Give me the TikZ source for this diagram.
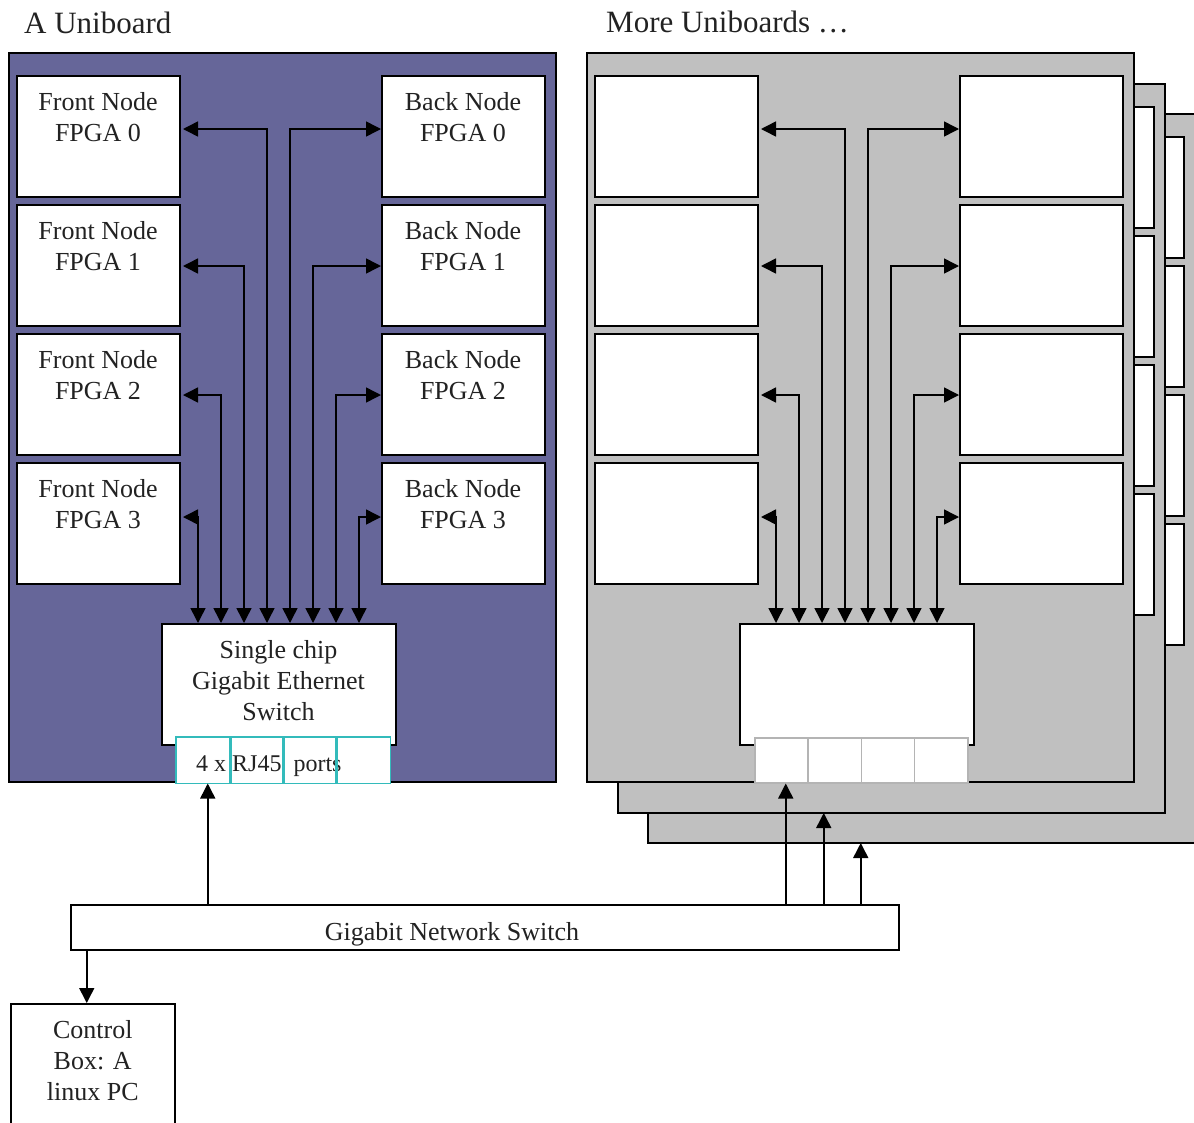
\documentclass[tikz,border=0pt]{standalone}
\usepackage{fontspec}
\setmainfont{Liberation Serif}
\usetikzlibrary{arrows.meta}
\definecolor{boardblue}{RGB}{102,102,153}
\definecolor{boardgray}{RGB}{192,192,192}
\definecolor{portteal}{RGB}{51,187,187}
\definecolor{portgray}{RGB}{180,180,180}
\definecolor{txtgray}{RGB}{34,34,34}
\begin{document}
\begin{tikzpicture}[x=1pt,y=-1pt,
 board/.style={draw=black, line width=1.5pt, rectangle, inner sep=0pt, outer sep=0pt, minimum width=547pt, minimum height=729pt, anchor=north west},
 fpga/.style={draw=black, fill=white, line width=2pt, rectangle, inner sep=0pt, outer sep=0.5pt, minimum width=163pt, minimum height=121pt, anchor=north west},
 chip/.style={fpga, minimum width=234pt},
 port/.style={fill=white, line width=1.5pt, inner sep=0pt, minimum width=53.25pt, minimum height=45pt, anchor=north west},
 lbl/.style={text=txtgray, font=\fontsize{26}{31}\selectfont, align=center, inner sep=0pt, anchor=north},
 titletxt/.style={text=txtgray, font=\fontsize{31}{36}\selectfont, inner sep=0pt, anchor=base west},
 bi/.style={line width=1.5pt, {Triangle[length=15pt,width=15pt]}-{Triangle[length=15pt,width=15pt]}},
 arr/.style={line width=1.5pt, -{Triangle[length=15pt,width=15pt]}},
]
\useasboundingbox (0,0) rectangle (1194,1122);
\clip (0,0) rectangle (1194,1122);

% ---- back boards ----
\node[board, fill=boardgray] (B3) at (648,114) {};
\foreach \i/\y in {0/136,1/265,2/394,3/523}{
  \node[fpga] (cf\i) at (655,\y) {};
  \node[fpga] (cb\i) at (1020,\y) {};
}
\node[board, fill=boardgray] (B2) at (618,84) {};
\foreach \i/\y in {0/106,1/235,2/364,3/493}{
  \node[fpga] (df\i) at (625,\y) {};
  \node[fpga] (db\i) at (990,\y) {};
}

% ---- main right board ----
\node[board, fill=boardgray] (RB) at (587,53) {};
\foreach \i/\y in {0/75,1/204,2/333,3/462}{
  \node[fpga] (rf\i) at (594,\y) {};
  \node[fpga] (rb\i) at (959,\y) {};
}
\node[chip] (rsw) at (739,623) {};
\foreach \i in {0,...,3}{
  \node[port, draw=portgray] (rp\i) at ({754+53.25*\i},737) {};
}
\foreach \i/\ys/\xo in {0/7/11.5,1/-1/34.5,2/-1/57.5,3/6/80.5}{
  \draw[bi, shorten <=3pt] ([yshift=\ys pt]rf\i.east) -| ([xshift=-\xo pt]rsw.north);
  \draw[bi] ([yshift=\ys pt]rb\i.west) -| ([xshift=\xo pt]rsw.north);
}

% ---- left board ----
\node[board, fill=boardblue] (LB) at (9,53) {};
\foreach \i/\y in {0/75,1/204,2/333,3/462}{
  \node[fpga] (lf\i) at (16,\y) {};
  \node[fpga] (lb\i) at (381,\y) {};
  \node[lbl] at ([yshift=-17pt]lf\i.north) {Front Node\\FPGA \i};
  \node[lbl] at ([yshift=-17pt]lb\i.north) {Back Node\\FPGA \i};
}
\node[chip] (lsw) at (161,623) {};
\node[lbl] at ([yshift=-17pt]lsw.north) {Single chip\\Gigabit Ethernet\\Switch};
\foreach \i in {0,...,3}{
  \node[port] (lp\i) at ({176+53.25*\i},737) {};
}
\node[text=txtgray, font=\fontsize{24}{28}\selectfont, inner sep=0pt, anchor=base west] (ptxt) at (196,771) {4 x RJ45\hspace{6pt} ports};
\foreach \i in {0,...,3}{
  \draw[portteal, line width=1.5pt] (lp\i.north west) rectangle (lp\i.south east);
}
\foreach \i/\ys/\xo in {0/7/11.5,1/-1/34.5,2/-1/57.5,3/6/80.5}{
  \draw[bi, shorten <=3pt] ([yshift=\ys pt]lf\i.east) -| ([xshift=-\xo pt]lsw.north);
  \draw[bi] ([yshift=\ys pt]lb\i.west) -| ([xshift=\xo pt]lsw.north);
}

% ---- titles ----
\node[titletxt] (t1) at (24,33) {A Uniboard};
\node[titletxt] (t2) at (606,32) {More Uniboards …};

% ---- network switch ----
\node[draw=black, fill=white, line width=1.5pt, inner sep=0pt, minimum width=828pt, minimum height=45pt, anchor=north west] (ns) at (70,904) {};
\node[lbl, anchor=base] at (452,940) {Gigabit Network Switch};

% ---- control box ----
\node[draw=black, fill=white, line width=1.5pt, inner sep=0pt, minimum width=164pt, minimum height=160pt, anchor=north west] (ctl) at (10,1003) {};
\node[lbl] at ([yshift=-17pt]ctl.north) {Control\\Box: A\\linux PC};

% ---- connections ----
\coordinate (a1) at ([xshift=-277pt]ns.north);
\coordinate (a2) at ([xshift=301pt]ns.north);
\coordinate (a3) at ([xshift=339pt]ns.north);
\coordinate (a4) at ([xshift=376pt]ns.north);
\coordinate (a5) at ([xshift=-398pt]ns.south);
\draw[arr] (a1) -- (a1 |- lp0.south);
\draw[arr] (a2) -- (a2 |- rp0.south);
\draw[arr] (a3) -- (a3 |- B2.south);
\draw[arr] (a4) -- (a4 |- B3.south);
\draw[arr] (a5) -- (a5 |- ctl.north);
\end{tikzpicture}
\end{document}
